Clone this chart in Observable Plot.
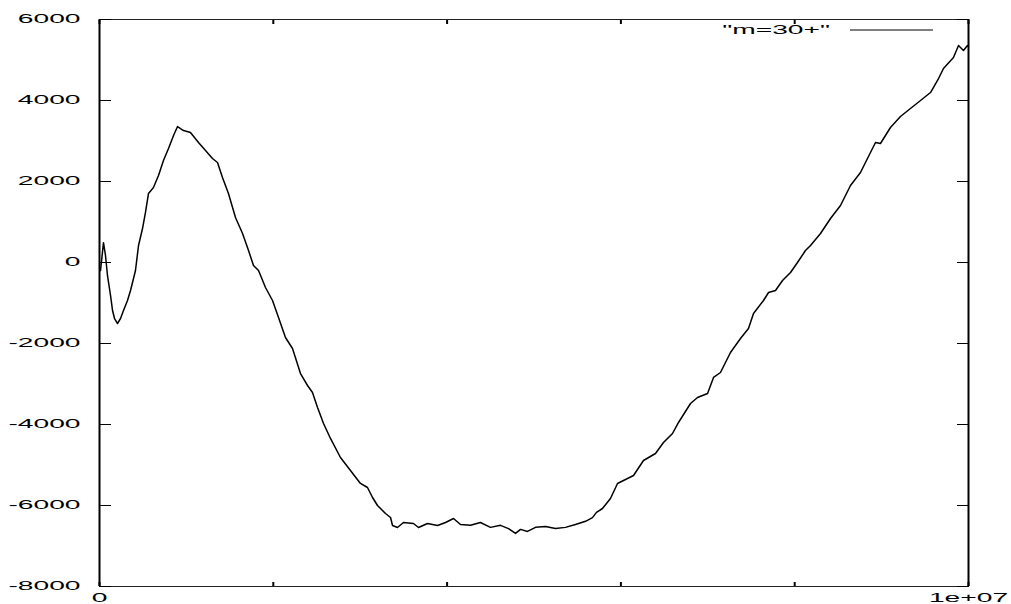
<!DOCTYPE html>
<html><head><meta charset="utf-8">
<script src="https://cdn.jsdelivr.net/npm/d3@7"></script>
<script src="https://cdn.jsdelivr.net/npm/@observablehq/plot@0.6"></script>
<style>html,body{margin:0;padding:0;background:#fff} svg{display:block}</style>
</head><body><div id="chart"></div>
<script>
const steps = [11500,46000,69000,92000,127000,150000,173000,207000,242000,276000,322000,357000,414000,449000,495000,529000,564000,621000,679000,736000,794000,852000,898000,932000,967000,1047000,1139000,1220000,1300000,1358000,1415000,1484000,1565000,1646000,1715000,1772000,1830000,1910000,1991000,2060000,2140000,2221000,2313000,2394000,2451000,2509000,2578000,2658000,2773000,2888000,3003000,3084000,3142000,3199000,3291000,3349000,3372000,3429000,3498000,3613000,3671000,3774000,3890000,3982000,4074000,4154000,4269000,4384000,4499000,4614000,4707000,4787000,4845000,4925000,5017000,5132000,5247000,5362000,5477000,5593000,5673000,5719000,5788000,5880000,5961000,6145000,6260000,6398000,6490000,6594000,6663000,6801000,6882000,6997000,7066000,7146000,7261000,7376000,7468000,7526000,7641000,7699000,7779000,7860000,7952000,8032000,8124000,8182000,8297000,8412000,8527000,8642000,8757000,8872000,8930000,8987000,9102000,9217000,9332000,9448000,9563000,9655000,9712000,9827000,9885000,9942000,9988000,10000000];
const values = [-200,490,173,-321,-815,-1185,-1383,-1506,-1383,-1185,-938,-691,-198,420,839,1235,1704,1852,2148,2518,2815,3136,3358,3308,3259,3210,2963,2765,2568,2469,2099,1704,1111,716,296,-74,-198,-617,-938,-1358,-1852,-2123,-2741,-3037,-3210,-3580,-3975,-4345,-4815,-5136,-5456,-5555,-5802,-6000,-6197,-6296,-6493,-6543,-6419,-6444,-6543,-6444,-6493,-6420,-6320,-6470,-6490,-6420,-6540,-6490,-6570,-6690,-6590,-6640,-6540,-6520,-6570,-6540,-6470,-6390,-6300,-6170,-6074,-5827,-5456,-5259,-4889,-4716,-4444,-4222,-3950,-3481,-3333,-3234,-2839,-2716,-2222,-1876,-1630,-1259,-938,-741,-691,-444,-247,0,296,420,716,1086,1407,1901,2222,2716,2963,2938,3333,3605,3802,4000,4197,4543,4790,5061,5358,5234,5358,5330];
const yTicks = [-8000,-6000,-4000,-2000,0,2000,4000,6000];
const xTicks = [0,2000000,4000000,6000000,8000000,10000000];
const xTickLabels = ["0","","","","","1e+07"];
const seriesName = '"m=30+"';

const data = steps.map((x, i) => ({x, y: values[i]}));
const SX = 2.35;

const chart = Plot.plot({
  width: 1011, height: 604,
  marginLeft: 99, marginRight: 43, marginTop: 19, marginBottom: 18,
  style: {fontFamily: "'Liberation Sans', Arial, sans-serif", fontSize: "12px", background: "#fff", color: "#000", overflow: "visible"},
  x: {domain: [0, 10000000]},
  y: {domain: [-8000, 6000]},
  marks: [
    Plot.frame({stroke: "#222", strokeWidth: 1}),
    Plot.ruleX([xTicks[0], xTicks[xTicks.length - 1]], {stroke: "#000", strokeWidth: 2}),
    Plot.axisY(yTicks, {anchor: "left", tickSize: -12, tickPadding: 31, tickFormat: d => String(d), label: null, strokeWidth: 1}),
    Plot.axisY(yTicks, {anchor: "right", tickSize: -12, tickFormat: () => "", label: null, strokeWidth: 1}),
    Plot.axisX(xTicks, {anchor: "bottom", tickSize: -4, tickPadding: 11, tickFormat: d => xTickLabels[xTicks.indexOf(d)], label: null, strokeWidth: 2}),
    Plot.axisX(xTicks, {anchor: "top", tickSize: -4, tickFormat: () => "", label: null, strokeWidth: 2}),
    Plot.line(data, {x: "x", y: "y", stroke: "#000", strokeWidth: 1.5})
  ]
});
document.getElementById("chart").appendChild(chart);

function stretch(el) {
  const x = +el.getAttribute("x") || 0;
  const t = el.getAttribute("transform") || "";
  el.setAttribute("transform", `${t} translate(${x},0) scale(${SX},1) translate(${-x},0)`);
}
const svg = d3.select(chart);
svg.selectAll("g[aria-label$='tick label'] text").each(function() { stretch(this); });

// legend
const lg = svg.append("g").attr("class", "legend");
const lt = lg.append("text")
  .attr("x", 830).attr("y", 30).attr("dy", "0.35em")
  .attr("text-anchor", "end")
  .attr("font-family", "'Liberation Sans', Arial, sans-serif")
  .attr("font-size", 12)
  .attr("fill", "#000")
  .text(seriesName);
stretch(lt.node());
lg.append("line").attr("x1", 850).attr("x2", 933).attr("y1", 30).attr("y2", 30)
  .attr("stroke", "#000").attr("stroke-width", 1);
</script>
</body></html>
